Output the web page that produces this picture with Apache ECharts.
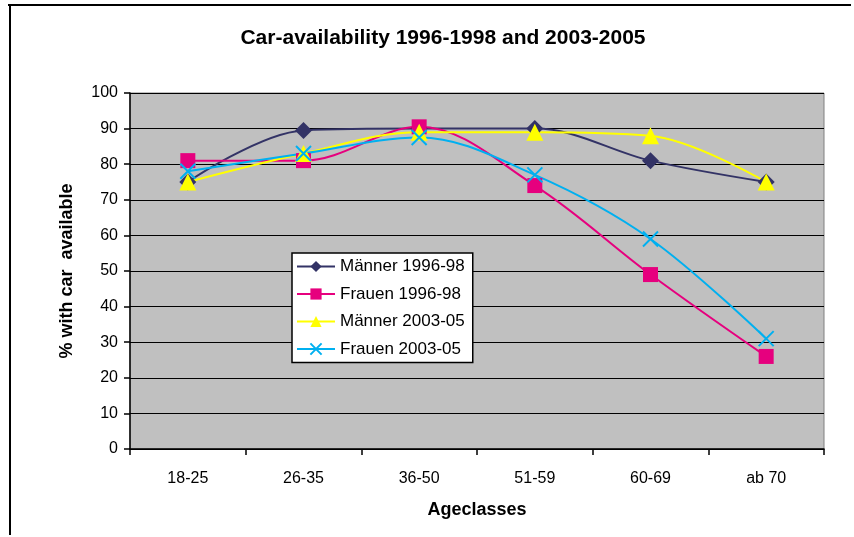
<!DOCTYPE html>
<html>
<head>
<meta charset="utf-8">
<script src="https://cdn.jsdelivr.net/npm/echarts@6/dist/echarts.min.js"></script>
<style>
  html, body { margin: 0; padding: 0; background: #fff; }
  #chart { width: 854px; height: 537px; }
</style>
</head>
<body>
<div id="chart"></div>
<script>
// Altersklassen
const ageClasses = ['18-25', '26-35', '36-50', '51-59', '60-69', 'ab 70']
const seriesNames = ['Männer 1996-98', 'Frauen 1996-98', 'Männer 2003-05', 'Frauen 2003-05']
const maenner9698 = [75, 89.5, 90, 90, 81, 75]
const frauen9698 = [81, 81, 90.5, 74, 49, 26]
const maenner0305 = [75, 83, 89, 89, 88, 75]
const frauen0305 = [78, 83, 87.5, 77, 59, 31]
const yTicks = [0, 10, 20, 30, 40, 50, 60, 70, 80, 90, 100]

const FONT = '"Liberation Sans", Arial, sans-serif'
const crossPath = 'path://M0,0 L10,10 M10,0 L0,10'

const mkSeries = (name, data, color, symbol, size, extra) => Object.assign({
    name: name,
    type: 'line',
    data: data,
    smooth: 0.35,
    symbol: symbol,
    symbolSize: size,
    lineStyle: { color: color, width: 2 },
    itemStyle: { color: color },
    emphasis: { disabled: true },
    z: 3
}, extra || {})

const chartDom = document.getElementById('chart')
const myChart = echarts.init(chartDom, null, { renderer: 'canvas' })

const option = {
    animation: false,
    title: {
        text: 'Car-availability 1996-1998 and 2003-2005',
        left: 438,
        textAlign: 'center',
        top: 23,
        textStyle: { fontFamily: FONT, fontSize: 21, fontWeight: 'bold', color: '#000' }
    },
    grid: { left: 130, right: 30, top: 93, bottom: 88, backgroundColor: '#C0C0C0', show: true, borderColor: '#808080', borderWidth: 1 },
    legend: {
        orient: 'vertical',
        left: 292,
        top: 253,
        itemWidth: 38,
        itemHeight: 14,
        itemGap: 10.5,
        padding: [5, 8, 5, 4],
        backgroundColor: '#fff',
        borderColor: '#000',
        borderWidth: 1.5,
        borderRadius: 0,
        textStyle: { fontFamily: FONT, fontSize: 17, color: '#000' },
        data: seriesNames
    },
    xAxis: {
        type: 'category',
        data: ageClasses,
        boundaryGap: true,
        name: 'Ageclasses',
        nameLocation: 'middle',
        nameGap: 52,
        nameTextStyle: { fontFamily: FONT, fontSize: 18, fontWeight: 'bold', color: '#000' },
        axisLine: { lineStyle: { color: '#000', width: 1.5 } },
        axisTick: { show: true, alignWithLabel: false, length: 6, lineStyle: { color: '#000', width: 1.5 } },
        axisLabel: { fontFamily: FONT, fontSize: 16, color: '#000', margin: 22 },
        splitLine: { show: false }
    },
    yAxis: {
        type: 'value',
        min: 0,
        max: 100,
        interval: 10,
        name: '% with car  available',
        nameLocation: 'middle',
        nameGap: 54,
        nameTextStyle: { fontFamily: FONT, fontSize: 18, fontWeight: 'bold', color: '#000' },
        axisLine: { show: true, lineStyle: { color: '#000', width: 1.5 } },
        axisTick: { show: true, length: 6, lineStyle: { color: '#000', width: 1.5 } },
        axisLabel: { fontFamily: FONT, fontSize: 16, color: '#000', margin: 12,
            formatter: v => yTicks.indexOf(v) >= 0 ? String(v) : '' },
        splitLine: { show: true, lineStyle: { color: '#000', width: 1.2 } }
    },
    graphic: [
        { type: 'line', shape: { x1: 8, y1: 5, x2: 851, y2: 5 }, style: { stroke: '#000', lineWidth: 2 } },
        { type: 'line', shape: { x1: 10, y1: 4, x2: 10, y2: 535 }, style: { stroke: '#000', lineWidth: 2 } }
    ],
    series: [
        mkSeries(seriesNames[0], maenner9698, '#333366', 'diamond', 17),
        mkSeries(seriesNames[1], frauen9698, '#E6007E', 'rect', 15),
        mkSeries(seriesNames[2], maenner0305, '#FFFF00', 'triangle', 17),
        mkSeries(seriesNames[3], frauen0305, '#00B0F0', crossPath, 15, {
            itemStyle: { color: 'transparent', borderColor: '#00B0F0', borderWidth: 2 }
        })
    ]
}

myChart.setOption(option)
window.onresize = () => myChart.resize()
</script>
</body>
</html>
